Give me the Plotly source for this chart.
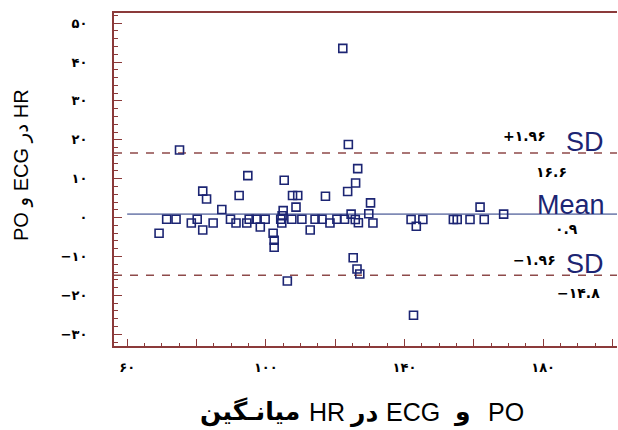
import plotly.graph_objects as go

# ---- data ----
mean_hr = [69.2, 71.4, 74.1, 75.1, 78.5, 80.2, 81.8, 81.8, 82.9, 84.8,
           87.3, 89.8, 91.4, 92.3, 94.8, 94.5, 95.2, 97.2, 98.4, 99.8,
           102.1, 102.4, 102.4, 105.3, 105.0, 104.7, 104.3, 104.6, 106.2, 107.5,
           107.7, 109.2, 108.7, 110.4, 112.8, 114.2, 116.2, 117.2, 118.5, 120.5,
           122.7, 122.2, 123.8, 123.6, 124.6, 125.9, 126.5, 125.2, 126.3, 127.1,
           125.8, 126.7, 129.7, 130.2, 130.9, 141.9, 143.4, 145.3, 142.6, 154.1,
           155.2, 158.9, 161.8, 163.0, 168.6]
diff_hr = [-4.0, -0.4, -0.4, 17.4, -1.4, -0.4, -3.2, 6.8, 4.8, -1.4,
           2.1, -0.4, -1.4, 5.7, 10.8, -1.4, -0.4, -0.4, -2.4, -0.4,
           -4.0, -5.8, -7.6, 9.6, 1.8, 0.5, -0.4, -1.4, -16.3, -0.4,
           5.7, 5.7, 2.7, -0.4, -3.2, -0.4, -0.4, 5.5, -1.4, -0.4,
           -0.4, 43.5, 18.8, 6.7, 0.9, 8.9, 12.6, -10.3, -13.2, -14.5,
           -0.5, -1.3, 1.0, 3.8, -1.4, -0.5, -2.2, -0.5, -25.1, -0.5,
           -0.5, -0.5, 2.7, -0.5, 0.9]

mean_diff = 0.9
upper_loa = 16.6
lower_loa = -14.8

x_tickvals = [60, 80, 100, 120, 140, 160, 180, 200]
x_ticktext = ["۶۰", "", "۱۰۰", "", "۱۴۰", "", "۱۸۰", ""]
y_tickvals = [50, 40, 30, 20, 10, 0, -10, -20, -30]
y_ticktext = ["۵۰", "۴۰", "۳۰", "۲۰", "۱۰", "۰", "−۱۰", "−۲۰", "−۳۰"]

# x-axis title words, in the visual left-to-right order of the reference
x_title_words = ["میانـگین", "HR", "در", "ECG", "و", "PO"]
x_title_bold = [True, False, True, False, True, False]
y_title = "PO و ECG در HR"

X_RANGE = [56.2, 201.3]
Y_RANGE = [-33.0, 52.6]

NAVY = "#1c2573"
MAROON = "#8b3a3a"
DASH = "#8e4a4a"
MEANLINE = "#7f8ab5"
LATIN = "Liberation Sans, Arial, DejaVu Sans, sans-serif"
DIGITS = "DejaVu Sans, sans-serif"

W, H = 618, 430
L, R, T, B = 114, 1, 13, 84
pw, ph = W - L - R, H - T - B

fig = go.Figure()

# mean line (starts at the first labelled tick)
fig.add_shape(type="line", xref="x", yref="y",
              x0=x_tickvals[0], x1=X_RANGE[1], y0=mean_diff, y1=mean_diff,
              line=dict(color=MEANLINE, width=1.6), layer="below")
for v in (upper_loa, lower_loa):
    fig.add_shape(type="line", xref="paper", yref="y", x0=0, x1=1, y0=v, y1=v,
                  line=dict(color=DASH, width=1.6, dash="8px,8px"), layer="below")

fig.add_trace(go.Scatter(
    x=mean_hr, y=diff_hr, mode="markers",
    marker=dict(symbol="square-open", size=8, color=NAVY, line=dict(width=1.6)),
    showlegend=False, hoverinfo="x+y"))

# labels on the right
def txt(x, y, s, size, color, family, bold=False):
    fig.add_annotation(x=x, y=y, xref="x", yref="y", text=("<b>%s</b>" % s) if bold else s,
                       showarrow=False, xanchor="center", yanchor="middle",
                       font=dict(size=size, color=color, family=family))

txt(174.5, 20.9, "+۱.۹۶", 14, "black", DIGITS, True)
txt(192.0, 19.5, "SD", 27, NAVY, LATIN)
txt(182.3, 11.8, "۱۶.۶", 14, "black", DIGITS, True)
txt(188.0, 3.2, "Mean", 27, NAVY, LATIN)
txt(186.8, -2.8, "۰.۹", 14, "black", DIGITS, True)
txt(177.6, -10.9, "−۱.۹۶", 14, "black", DIGITS, True)
txt(192.0, -11.8, "SD", 27, NAVY, LATIN)
txt(190.1, -19.5, "−۱۴.۸", 14, "black", DIGITS, True)

# axis titles (positioned in pixels, converted to paper coords)
def px_annot(xp, yp, text, size, angle=0, xanchor="center"):
    fig.add_annotation(x=(xp - L) / pw, y=(H - B - yp) / ph, xref="paper", yref="paper",
                       showarrow=False, text=text, textangle=angle,
                       xanchor=xanchor, yanchor="middle",
                       font=dict(size=size, color="black", family=LATIN))

px_annot(21, 165, y_title, 20, -90)
word_centers = [250, 327, 363, 413, 462, 506]
for w, b, cx in zip(x_title_words, x_title_bold, word_centers):
    px_annot(cx, 412, ("<b>%s</b>" % w) if b else w, 25)

fig.update_xaxes(range=X_RANGE, tickmode="array", tickvals=x_tickvals, ticktext=x_ticktext,
                 ticks="inside", ticklen=7, tickwidth=1.3, tickcolor=MAROON,
                 showline=True, linecolor=MAROON, linewidth=2, mirror=True,
                 showgrid=False, zeroline=False, ticklabelstandoff=8,
                 tickfont=dict(size=13, color="black", family=DIGITS, weight="bold"),
                 minor=dict(dtick=5, tick0=0, ticks="inside", ticklen=3, tickcolor=MAROON, tickwidth=1.2))
fig.update_yaxes(range=Y_RANGE, tickmode="array", tickvals=y_tickvals, ticktext=y_ticktext,
                 ticks="inside", ticklen=8, tickwidth=1.3, tickcolor=MAROON,
                 showline=True, linecolor=MAROON, linewidth=2, mirror=False,
                 showgrid=False, zeroline=False, ticklabelstandoff=22,
                 tickfont=dict(size=13, color="black", family=DIGITS, weight="bold"),
                 minor=dict(dtick=2, tick0=0, ticks="inside", ticklen=4, tickcolor=MAROON, tickwidth=1.2))

fig.update_layout(width=W, height=H, margin=dict(l=L, r=R, t=T, b=B, autoexpand=False),
                  paper_bgcolor="white", plot_bgcolor="white")

fig.write_html("out.html", config={"displayModeBar": False},
               post_script="document.body.style.margin='0px';document.body.style.overflow='hidden';")
